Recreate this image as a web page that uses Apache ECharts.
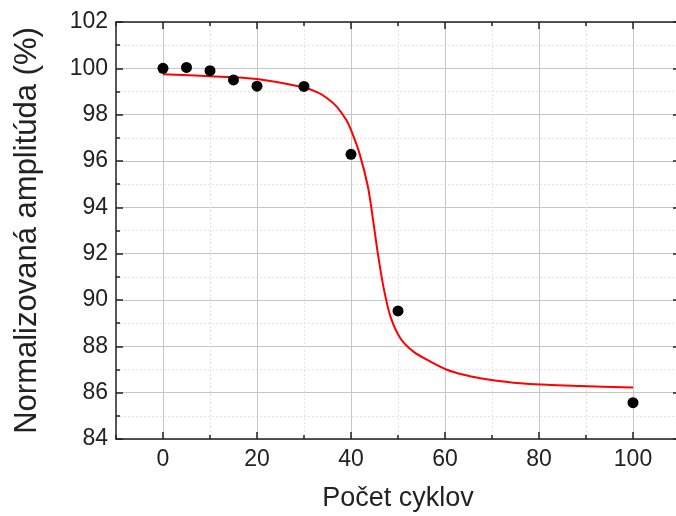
<!DOCTYPE html>
<head>
    <meta charset="utf-8">
    <title>ECharts</title>
    <style>
        html, body { margin: 0; padding: 0; background: #fff; }
        #main { width: 676px; height: 516px; }
    </style>
</head>
<body>
<div id="main"></div>

<script src="https://cdn.jsdelivr.net/npm/echarts/dist/echarts.min.js"></script>
<script type="text/javascript">
    // measured points
    var cycles = [0, 5, 10, 15, 20, 30, 40, 50, 100];
    var amplitude = [100.0, 100.04, 99.9, 99.5, 99.23, 99.22, 96.29, 89.53, 85.57];

    // fitted curve
    var fitX = [0, 10, 20, 30, 33, 35, 37, 39, 40, 41.8, 43.6, 44.7, 45.7, 46.9, 48.4, 50.5, 53.3, 56.9, 60.4, 64, 67.5, 71, 74.6, 81.7, 88.8, 100];
    var fitY = [99.74, 99.66, 99.54, 99.17, 98.95, 98.7, 98.34, 97.77, 97.34, 96.33, 94.89, 93.45, 92.02, 90.57, 89.28, 88.35, 87.77, 87.34, 86.99, 86.77, 86.62, 86.51, 86.43, 86.34, 86.29, 86.22];

    var xTicks = [0, 20, 40, 60, 80, 100];

    var font = '"Liberation Sans", Arial, sans-serif';
    var axisColor = '#222';
    var majorGrid = '#c6c6c6';
    var minorGrid = '#e4e4e4';

    function pairs(xs, ys) {
        var out = [];
        for (var i = 0; i < xs.length; i++) out.push([xs[i], ys[i]]);
        return out;
    }

    // x: interval 20 from -10 puts the scale ticks on the odd tens,
    // so the minor ticks (0, 20, ...) act as the major grid
    function xAxisCfg(pos, labels) {
        return {
            type: 'value', position: pos, gridIndex: 0,
            min: -10, max: 110, interval: 20,
            axisLine: { onZero: false, lineStyle: { color: axisColor, width: 1.5 } },
            axisTick: { inside: true, length: 4, lineStyle: { color: axisColor, width: 1.5 } },
            minorTick: { show: true, splitNumber: 2, length: 7, lineStyle: { color: axisColor, width: 1.5 } },
            splitLine: { show: labels, lineStyle: { color: minorGrid, type: [2, 2] } },
            minorSplitLine: { show: labels, lineStyle: { color: majorGrid, width: 1 } },
            axisLabel: {
                show: labels, customValues: xTicks, margin: 9,
                fontFamily: font, fontSize: 23, color: axisColor
            },
            name: labels ? 'Počet cyklov' : '',
            nameLocation: 'middle', nameGap: 46,
            nameTextStyle: { fontFamily: font, fontSize: 27, color: axisColor }
        };
    }

    function yAxisCfg(pos, labels) {
        return {
            type: 'value', position: pos, gridIndex: 0,
            min: 84, max: 102, interval: 2,
            axisLine: { onZero: false, lineStyle: { color: axisColor, width: 1.5 } },
            axisTick: { inside: true, length: 7, lineStyle: { color: axisColor, width: 1.5 } },
            minorTick: { show: true, splitNumber: 2, length: 4, lineStyle: { color: axisColor, width: 1.5 } },
            splitLine: { show: labels, lineStyle: { color: majorGrid, width: 1 } },
            minorSplitLine: { show: labels, lineStyle: { color: minorGrid, type: [2, 2] } },
            axisLabel: {
                show: labels, margin: 8,
                fontFamily: font, fontSize: 23, color: axisColor
            },
            name: labels ? 'Normalizovaná amplitúda (%)' : '',
            nameLocation: 'middle', nameGap: 73,
            nameTextStyle: { fontFamily: font, fontSize: 31, color: axisColor }
        };
    }

    var chart = echarts.init(document.getElementById('main'));
    chart.setOption({
        animation: false,
        backgroundColor: '#fff',
        grid: { left: 116, top: 22, width: 564, height: 417, outerBoundsMode: 'none' },
        xAxis: [xAxisCfg('bottom', true), xAxisCfg('top', false)],
        yAxis: [yAxisCfg('left', true), yAxisCfg('right', false)],
        series: [
            {
                type: 'line',
                xAxisIndex: 0, yAxisIndex: 0,
                data: pairs(fitX, fitY),
                smooth: 0.3,
                showSymbol: false,
                lineStyle: { color: '#ff0000', width: 2 },
                z: 2
            },
            {
                type: 'scatter',
                xAxisIndex: 0, yAxisIndex: 0,
                data: pairs(cycles, amplitude),
                symbolSize: 11,
                itemStyle: { color: '#000', opacity: 1 },
                z: 3
            }
        ]
    });
</script>
</body>
